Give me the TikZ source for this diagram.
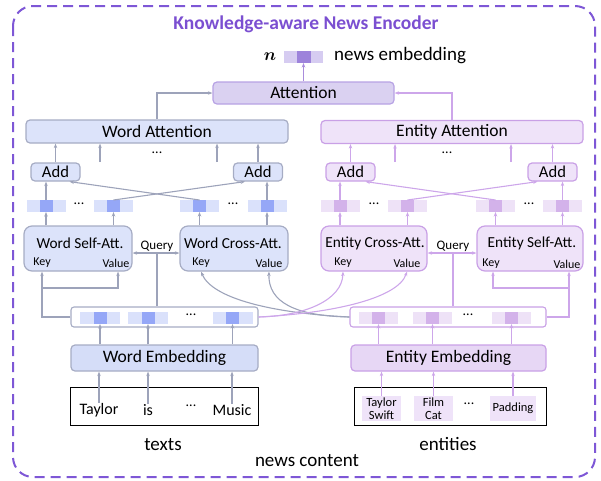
\documentclass[tikz,border=0pt]{standalone}
\usepackage{amsmath,amssymb}
\usepackage{fontspec}
\setmainfont{Carlito}
\usepackage{tikz}
\usetikzlibrary{arrows.meta}
\usepackage{xcolor}
\definecolor{wline}{HTML}{9DA3BA}
\definecolor{wfill}{HTML}{DCE3FA}
\definecolor{wembfill}{HTML}{D5DDF8}
\definecolor{wborder}{HTML}{A6ACC4}
\definecolor{eline}{HTML}{CDA6EA}
\definecolor{efill}{HTML}{EFE3F9}
\definecolor{eembfill}{HTML}{E7D7F5}
\definecolor{eborder}{HTML}{C9A0E6}
\definecolor{afill}{HTML}{DAD1F1}
\definecolor{aborder}{HTML}{B7A2E4}
\definecolor{aline}{HTML}{A98CDC}
\definecolor{wlight}{HTML}{DAE1FB}
\definecolor{wdark}{HTML}{95A7F7}
\definecolor{elight}{HTML}{EEE2F7}
\definecolor{edark}{HTML}{D3B2EA}
\definecolor{nlight}{HTML}{D6CCF1}
\definecolor{ndark}{HTML}{9D83DB}
\definecolor{titlepurple}{HTML}{7B4FD1}
\definecolor{framepurple}{HTML}{7E57D6}

\begin{document}
\begin{tikzpicture}[x=1pt,y=1pt,yscale=-1,xscale=1,
  >={Stealth[length=4.5pt,width=3.5pt]},
  warr/.style={draw=wline, line width=1.1pt, ->},
  earr/.style={draw=eline, line width=1.1pt, ->},
  aarr/.style={draw=aline, line width=1.1pt, ->},
  bigtxt/.style={font=\fontsize{17.5}{20}\selectfont},
  midtxt/.style={font=\fontsize{15.3}{17}\selectfont, inner sep=0pt},
  portlbl/.style={font=\fontsize{12}{14}\selectfont, inner sep=0pt},
  querylbl/.style={font=\fontsize{13}{15}\selectfont, inner sep=0pt},
  dotslbl/.style={font=\fontsize{14}{16}\selectfont, inner sep=0pt},
  captxt/.style={font=\fontsize{19}{22}\selectfont, inner sep=0pt},
  wordtok/.style={font=\fontsize{16}{18}\selectfont, inner sep=0pt},
  enttok/.style={fill=efill, font=\fontsize{12.5}{12.5}\selectfont, align=center, inner sep=0pt, minimum height=25pt},
  wbox/.style={draw=wborder, fill=wfill, line width=1.2pt, rounded corners=4pt, bigtxt, inner sep=0pt},
  ebox/.style={draw=eborder, fill=efill, line width=1.2pt, rounded corners=4pt, bigtxt, inner sep=0pt},
  abox/.style={draw=aborder, fill=afill, line width=1.2pt, rounded corners=4pt, bigtxt, inner sep=0pt},
  wadd/.style={wbox, minimum width=49pt, minimum height=18pt, font=\fontsize{16.6}{18}\selectfont},
  eadd/.style={ebox, minimum width=49pt, minimum height=18pt, font=\fontsize{16.6}{18}\selectfont},
  wattbox/.style={draw=wborder, fill=wfill, line width=1.2pt, rounded corners=8pt, minimum width=108pt, minimum height=45pt},
  eattbox/.style={draw=eborder, fill=efill, line width=1.2pt, rounded corners=8pt, minimum width=106pt, minimum height=45pt},
  barbox/.style={fill=white, line width=1.1pt, rounded corners=3pt, minimum height=20pt, inner sep=0pt},
  vecw/.style={fill=wlight, minimum width=39pt, minimum height=12pt, inner sep=0pt, outer sep=0pt,
    path picture={\fill[wdark] ([xshift=-6.5pt]path picture bounding box.south) rectangle ([xshift=6.5pt]path picture bounding box.north);}},
  vece/.style={fill=elight, minimum width=39pt, minimum height=12pt, inner sep=0pt, outer sep=0pt,
    path picture={\fill[edark] ([xshift=-6.5pt]path picture bounding box.south) rectangle ([xshift=6.5pt]path picture bounding box.north);}},
  vecn/.style={fill=nlight, minimum width=39pt, minimum height=12pt, inner sep=0pt, outer sep=0pt,
    path picture={\fill[ndark] ([xshift=-7pt]path picture bounding box.south) rectangle ([xshift=7pt]path picture bounding box.north);}}
]
\useasboundingbox (0,0) rectangle (601,480);

%Shape: Outer frame
\draw[framepurple, line width=2pt, dash pattern={on 10pt off 6pt}, rounded corners=20pt] (13,6) rectangle (595,477);

% Text Node
\node[font=\bfseries\fontsize{19.5}{22}\selectfont, text=titlepurple] (title) at (306,24) {Knowledge-aware News Encoder};

%Shape: news embedding
\node[font=\fontsize{18}{20}\selectfont, inner sep=0pt] (nlbl) at (270,57) {$\boldsymbol{n}$};
\node[vecn] (nvec) at (303.5,57) {};
\node[captxt, anchor=west] (ntxt) at (334,56) {news embedding};

%Shape: attention boxes
\node[abox, minimum width=181pt, minimum height=22pt] (attn) at (303.5,93) {Attention};
\node[wbox, minimum width=262pt, minimum height=23pt] (wattn) at (157,131.5) {Word Attention};
\node[ebox, minimum width=262pt, minimum height=23pt] (eattn) at (452,132) {Entity Attention};

\draw[aarr] (attn.north) -- (nvec.south);
\draw[warr] (wattn.north) |- (attn.west);
\draw[earr] (eattn.north) |- (attn.east);

%Shape: Add boxes
\node[wadd] (waddL) at (55.5,172) {Add};
\node[wadd] (waddR) at (258,172) {Add};
\node[eadd] (eaddL) at (350.5,172) {Add};
\node[eadd] (eaddR) at (552.5,172) {Add};

\coordinate (wstubA) at (100,162);
\coordinate (wstubB) at (217,162);
\coordinate (estubA) at (395,162);
\coordinate (estubB) at (511,162);
\node[dotslbl] (wdotsA) at (157,153) {...};
\node[dotslbl] (edotsA) at (447,153) {...};

\draw[warr] (waddL.north) -- (waddL.north |- wattn.south);
\draw[warr] (waddR.north) -- (waddR.north |- wattn.south);
\draw[warr] (wstubA) -- (wstubA |- wattn.south);
\draw[warr] (wstubB) -- (wstubB |- wattn.south);
\draw[earr] (eaddL.north) -- (eaddL.north |- eattn.south);
\draw[earr] (eaddR.north) -- (eaddR.north |- eattn.south);
\draw[earr] (estubA) -- (estubA |- eattn.south);
\draw[earr] (estubB) -- (estubB |- eattn.south);

%Shape: attention outputs
\node[vecw] (wv1) at (46,206) {};
\node[vecw] (wv2) at (113.5,206) {};
\node[vecw] (wv3) at (199.5,206) {};
\node[vecw] (wv4) at (267,206) {};
\node[dotslbl] (wdotsB) at (79,204) {...};
\node[dotslbl] (wdotsC) at (233,204) {...};
\node[vece] (ev1) at (340,206) {};
\node[vece] (ev2) at (407.5,206) {};
\node[vece] (ev3) at (495.5,206) {};
\node[vece] (ev4) at (562.5,206) {};
\node[dotslbl] (edotsB) at (374,204) {...};
\node[dotslbl] (edotsC) at (529,204) {...};

%Shape: Self / Cross attention
\node[wattbox] (wself) at (78,248.5) {};
\node[midtxt] (wselftxt) at (80,243) {Word Self-Att.};
\node[portlbl] (wselfkey) at (42,263) {Key};
\node[portlbl] (wselfval) at (116,263) {Value};
\node[wattbox] (wcross) at (234,248.5) {};
\node[midtxt] (wcrosstxt) at (233,243) {Word Cross-Att.};
\node[portlbl] (wcrosskey) at (201,263) {Key};
\node[portlbl] (wcrossval) at (269,263) {Value};
\node[eattbox] (ecross) at (374,248.5) {};
\node[midtxt] (ecrosstxt) at (375,243) {Entity Cross-Att.};
\node[portlbl] (ecrosskey) at (343,263) {Key};
\node[portlbl] (ecrossval) at (407,263) {Value};
\node[eattbox] (eself) at (530,248.5) {};
\node[midtxt] (eselftxt) at (532,243) {Entity Self-Att.};
\node[portlbl] (eselfkey) at (491,264) {Key};
\node[portlbl] (eselfval) at (567,264) {Value};

\draw[warr] (wself.north -| wv1) -- (wv1.south);
\draw[warr] (wv1.north) -- (waddL.south -| wv1);
\draw[warr] (wself.north -| wv2) -- (wv2.south);
\draw[warr] (wv2.north) -- ([xshift=-13pt]waddR.south);
\draw[warr] (wcross.north -| wv3) -- (wv3.south);
\draw[warr] (wv3.north) -- ([xshift=14pt]waddL.south);
\draw[warr] (wcross.north -| wv4) -- (wv4.south);
\draw[warr] (wv4.north) -- (waddR.south -| wv4);
\draw[earr] (ecross.north -| ev1) -- (ev1.south);
\draw[earr] (ev1.north) -- (eaddL.south -| ev1);
\draw[earr] (ecross.north -| ev2) -- (ev2.south);
\draw[earr] (ev2.north) -- ([xshift=-15pt]eaddR.south);
\draw[earr] (eself.north -| ev3) -- (ev3.south);
\draw[earr] (ev3.north) -- ([xshift=15pt]eaddL.south);
\draw[earr] (eself.north -| ev4) -- (ev4.south);
\draw[earr] (ev4.north) -- (eaddR.south -| ev4);

%Shape: embedding bars
\node[barbox, draw=wborder, minimum width=187pt] (wbar) at (164.5,317) {};
\node[vecw, minimum width=40pt] (wa) at (100,318) {};
\node[vecw, minimum width=40pt] (wb) at (148,318) {};
\node[vecw, minimum width=40pt] (wc) at (232.5,318) {};
\node[dotslbl] (wdotsD) at (191,315) {...};
\node[barbox, draw=eborder, minimum width=196pt] (ebar) at (448,317) {};
\node[vece] (ea) at (378.5,318) {};
\node[vece] (eb) at (432.5,318) {};
\node[vece] (ec) at (511.5,318) {};
\node[dotslbl] (edotsD) at (468,315) {...};

% Query
\coordinate (wq) at (157,253);
\coordinate (eq) at (453,253);
\node[querylbl] (wquery) at (157,246) {Query};
\node[querylbl] (equery) at (453,246) {Query};
\draw[warr, <->] (wself.east |- wq) -- (wcross.west |- wq);
\draw[warr, -] (wbar.north -| wq) -- (wq);
\draw[earr, <->] (ecross.east |- eq) -- (eself.west |- eq);
\draw[earr, -] (ebar.north -| eq) -- (eq);

% Key / Value inputs
\coordinate (wbranch) at (42,288);
\coordinate (ebranch) at (569,288);
\draw[warr] (wbar.west) -| (wselfkey |- wself.south);
\draw[warr] (wbranch) -| ([xshift=2pt]wselfval |- wself.south);
\draw[earr] (ebar.east) -| ([xshift=2pt]eselfval |- eself.south);
\draw[earr] (ebranch) -| ([xshift=2pt]eselfkey |- eself.south);
\draw[warr] (ebar.west) .. controls (270,313) and (212,298) .. (wcrosskey |- wcross.south);
\draw[warr] (ebar.west) .. controls (295,316) and (268,302) .. (wcrossval |- wcross.south);
\draw[earr] (wbar.east) .. controls (305,316) and (342,300) .. (ecrosskey |- ecross.south);
\draw[earr] (wbar.east) .. controls (335,313) and (398,298) .. (ecrossval |- ecross.south);

%Shape: embedding layers
\node[wbox, fill=wembfill, minimum width=187pt, minimum height=26pt] (wemb) at (164.5,358) {Word Embedding};
\node[ebox, fill=eembfill, minimum width=195pt, minimum height=26pt] (eemb) at (448.5,358) {Entity Embedding};
\draw[warr] (wemb.north -| wa) -- (wa.south);
\draw[warr] (wemb.north -| wb) -- (wb.south);
\draw[warr] (wemb.north -| wc) -- (wc.south);
\draw[earr] (eemb.north -| ea) -- (ea.south);
\draw[earr] (eemb.north -| eb) -- (eb.south);
\draw[earr] (eemb.north -| ec) -- (ec.south);

%Shape: inputs
\node[draw=black, line width=1pt, minimum width=188pt, minimum height=38pt] (textsbox) at (164,406) {};
\node[wordtok] (tok1) at (99,410) {Taylor};
\node[wordtok] (tok2) at (148,410) {is};
\node[dotslbl] (tokdots) at (191,406) {...};
\node[wordtok] (tok3) at (232,410) {Music};
\node[draw=black, line width=1pt, minimum width=192pt, minimum height=38pt] (entbox) at (450,406) {};
\node[enttok, minimum width=39pt] (ent1) at (381.5,408.5) {Taylor\\Swift};
\node[enttok, minimum width=39pt] (ent2) at (433.5,408.5) {Film\\Cat};
\node[dotslbl] (entdots) at (469,404) {...};
\node[enttok, minimum width=46pt] (ent3) at (513,408.5) {Padding};
\draw[warr] (tok1.north) -- (wemb.south -| tok1);
\draw[warr] (tok2.north) -- (wemb.south -| tok2);
\draw[warr] (tok3.north) -- (wemb.south -| tok3);
\draw[earr] (ent1.north) -- (eemb.south -| ent1);
\draw[earr] (ent2.north) -- (eemb.south -| ent2);
\draw[earr] (ent3.north) -- (eemb.south -| ent3);

% Text Node
\node[captxt] (textslbl) at (163,445) {texts};
\node[captxt] (entslbl) at (448,444) {entities};
\node[captxt] (contentlbl) at (307,461) {news content};

\end{tikzpicture}
\end{document}
